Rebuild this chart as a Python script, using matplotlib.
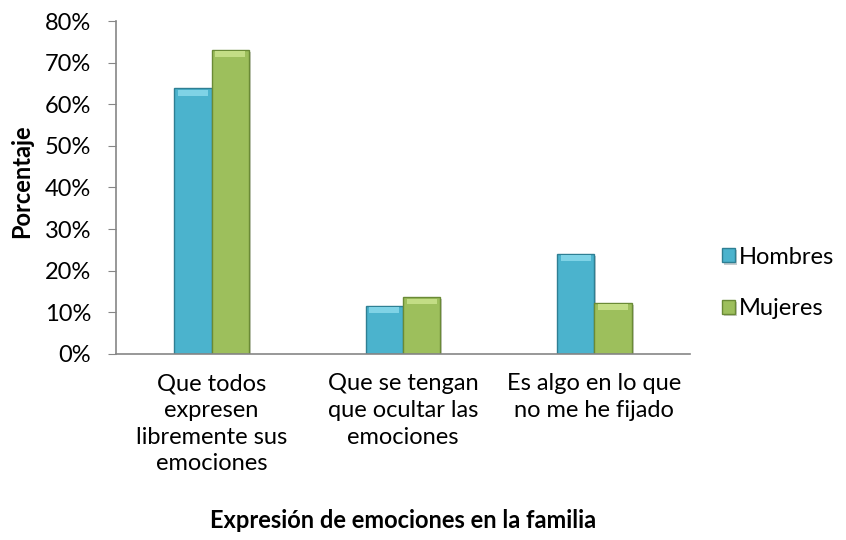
import matplotlib
matplotlib.use("Agg")
import matplotlib.pyplot as plt
import matplotlib.patheffects as pe
import numpy as np

categories = ["Que todos\nexpresen\nlibremente sus\nemociones",
              "Que se tengan\nque ocultar las\nemociones",
              "Es algo en lo que\nno me he fijado"]
hombres = [63.8, 11.5, 24.0]
mujeres = [73.1, 13.6, 12.2]
yticks = [0, 10, 20, 30, 40, 50, 60, 70, 80]

plt.rcParams["font.family"] = ["Lato", "DejaVu Sans"]
FS = 17

fig = plt.figure(figsize=(8.46, 5.4), dpi=100)
ax = fig.add_axes([116 / 846, 186 / 540, 574 / 846, 333 / 540])

x = np.arange(len(categories))
w = 0.195
bev = 1.4  # height of the lighter bevel strip on top of each bar
grey = "#868686"
shadow = [pe.SimplePatchShadow(offset=(1.5, -1.5), alpha=0.25), pe.Normal()]
for vals, off, fc, top, ec, lbl in [
        (hombres, -w / 2, "#4BB3CD", "#7FD3E6", "#2E7F93", "Hombres"),
        (mujeres, w / 2, "#9DBF5C", "#C3DD85", "#6A8A36", "Mujeres")]:
    vals = np.array(vals)
    ax.bar(x + off, vals, w, color=fc, edgecolor=ec, linewidth=1.0, label=lbl,
           zorder=3, path_effects=shadow)
    ax.bar(x + off, bev, w * 0.8, bottom=vals - bev - 0.3, color=top,
           linewidth=0, zorder=4)

ax.set_xlim(-0.5, 2.5)
ax.set_ylim(0, 80)
ax.set_yticks(yticks)
ax.set_yticklabels([f"{v}%" for v in yticks], fontsize=FS)
ax.set_xticks(x)
ax.set_xticklabels(categories, fontsize=FS, linespacing=1.33, va="top")
ax.tick_params(axis="x", length=0, pad=14)
ax.tick_params(axis="y", length=6, color=grey, pad=12)
for s in ("top", "right"):
    ax.spines[s].set_visible(False)
for s in ("left", "bottom"):
    ax.spines[s].set_color(grey)
    ax.spines[s].set_linewidth(1.2)
    ax.spines[s].set_zorder(5)

ax.set_ylabel("Porcentaje", fontsize=FS, fontweight="bold", va="center")
ax.yaxis.set_label_coords(-0.164, 0.52)
ax.set_xlabel("Expresión de emociones en la familia", fontsize=FS,
              fontweight="bold", va="center")
ax.xaxis.set_label_coords(0.5, (540 - 521 - 186) / 333)

ax.legend(loc="center left", bbox_to_anchor=(1.019, 0.213), frameon=False,
          fontsize=FS, handlelength=0.55, handleheight=0.55,
          labelspacing=1.3, handletextpad=0.15)

fig.savefig("out.png", dpi=100)
